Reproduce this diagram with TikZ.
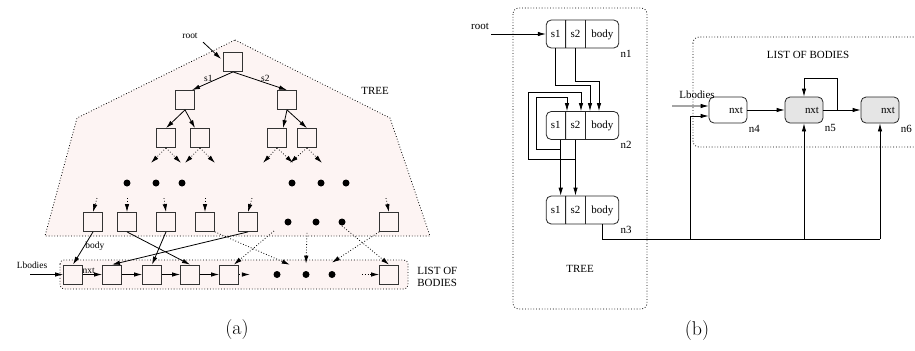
\documentclass[tikz,border=0pt]{standalone}
\usepackage{fontspec}
\newfontfamily\labelfont{Liberation Serif}
\usetikzlibrary{arrows.meta,shapes.multipart,calc}
\definecolor{treepink}{RGB}{253,244,243}
\definecolor{cellgray}{RGB}{229,229,229}
\tikzset{
  obj/.style={draw=black!80,fill=treepink,minimum size=19bp,inner sep=0pt},
  blob/.style={circle,fill=black,minimum size=7bp,inner sep=0pt},
  lbl/.style={font=\labelfont\fontsize{9.5}{10}\selectfont,inner sep=1pt},
  lblb/.style={font=\labelfont\fontsize{11}{12}\selectfont,inner sep=1pt},
  dotarr/.style={->,dotted},
  rec/.style={rectangle split,rectangle split parts=3,rectangle split horizontal,
    draw=black!85,rounded corners=5bp,inner sep=0pt,font=\labelfont\fontsize{11}{12}\selectfont},
  lnode/.style={draw=black!85,rounded corners=5bp,minimum height=26bp,text width=30bp,
    align=right,inner xsep=4bp,font=\labelfont\fontsize{11}{12}\selectfont},
}
\newcommand{\cell}[2]{\makebox[#1]{\rule[-11bp]{0pt}{28bp}#2}}

\begin{document}
\begin{tikzpicture}[x=1bp,y=-1bp,>={Latex[length=8bp,width=4.5bp]},line width=0.8bp]
\useasboundingbox (0,0) rectangle (915,350);

% (a) the tree over the list
\draw[dotted,fill=treepink] (235,40) -- (390,118) -- (430,236) -- (45,236) -- (77,118) -- cycle;
\draw[dotted,fill=treepink,rounded corners=4bp] (60,260) rectangle (408,289);

\node[obj] (r) at (233,62) {};
\node[obj] (a1) at (185,100) {};
\node[obj] (a2) at (287,100) {};
\node[obj] (b1) at (166,138) {};
\node[obj] (b2) at (200,138) {};
\node[obj] (b3) at (277,138) {};
\node[obj] (b4) at (307,138) {};
\foreach \n/\x in {td1/127,td2/156,td3/182,td4/292,td5/321,td6/346}
  \node[blob] (\n) at (\x,183) {};
\foreach \n/\x in {l1/93,l2/127,l3/166,l4/205,l5/248,l9/389}
  \node[obj] (\n) at (\x,222) {};
\foreach \n/\x in {ld1/288,ld2/316,ld3/342}
  \node[blob] (\n) at (\x,222) {};
\foreach \n/\x in {k1/73,k2/112,k3/152,k4/190,k5/229,k9/389}
  \node[obj] (\n) at (\x,274.5) {};
\foreach \n/\x in {kd1/277,kd2/306,kd3/332}
  \node[blob] (\n) at (\x,274.5) {};

\node[lbl] (rootA) at (190,36) {root};
\draw[->] (rootA.south east) ++(4,2) -- ([shift={(-2,-3)}]r.west);
\path[->]
(r.south) edge node[lbl,above,pos=0.6]{s1} ([xshift=7bp]a1.north)
(r.south) edge node[lbl,above,pos=0.6]{s2} (a2.north)
(a1.south) edge (b1.north)
(a1.south) edge ([xshift=-5bp]b2.north)
(a2.south) edge ([xshift=6bp]b3.north)
(a2.south) edge (b4.north);
\foreach \n/\dl/\dr in {b1/-15/15,b2/-15/15,b3/-14/16,b4/-17/15} {
  \draw[dotarr] (\n.south) -- ++(\dl,15);
  \draw[dotarr] (\n.south) -- ++(\dr,15);
}
\foreach \n/\dx in {l1/4,l2/0,l3/-2,l4/0,l5/4,l9/-3}
  \draw[dotarr] ([shift={(\dx,-14)}]\n.north) -- (\n.north);
\node[lblb] at (375,91) {TREE};

\draw[->] (l1.south) -- node[lbl,right,pos=0.45]{body} (k1.north);
\draw[->] (l2.south) -- (k4.north);
\draw[->] (l3.south) -- (k3.north);
\draw[->] (l5.south) -- (k2.north);
\draw[dotarr] (l4.south east) -- ([shift={(10,-7)}]kd1.north east);
\draw[dotarr] ([shift={(-14,9)}]ld1.center) -- ([xshift=-5bp]k5.north east);
\draw[dotarr] ([shift={(-9,7)}]ld2.south) -- ([yshift=7bp]kd2.north);
\draw[dotarr] (l9.south west) -- ([yshift=8bp]kd3.north);
\draw[dotarr] (ld3.south) -- (k9.north);

\coordinate (lbA) at (30,274.5);
\node[lbl] at (32,265) {Lbodies};
\draw[->] (lbA) -- (k1.west);
\draw[->] (k1) -- node[lbl,above,pos=0.3]{nxt} (k2);
\foreach \a/\b in {k2/k3,k3/k4,k4/k5}
  \draw[->] (\a) -- (\b);
\draw[dotarr] (k5.east) -- ++(11,0);
\draw[dotarr] ([xshift=-17bp]k9.west) -- (k9.west);
\node[lblb,anchor=west,align=left] at (416,277) {LIST OF\\BODIES};

\node[font=\fontsize{20}{24}\selectfont] at (237,330) {(a)};

% (b) the same structure with records
\draw[dotted,rounded corners=6bp] (513,8) rectangle (647,309);
\draw[dotted,rounded corners=6bp] (693,37) rectangle (925,147);
\node[lblb] at (580,269) {TREE};
\node[lblb] at (808,55) {LIST OF BODIES};

\node[rec] (n1) at (582.5,34) {\cell{19bp}{s1}\nodepart{two}\cell{19bp}{s2}\nodepart{three}\cell{33bp}{body}};
\node[rec] (n2) at (582.5,125.5) {\cell{19bp}{s1}\nodepart{two}\cell{19bp}{s2}\nodepart{three}\cell{33bp}{body}};
\node[rec] (n3) at (582.5,210) {\cell{19bp}{s1}\nodepart{two}\cell{19bp}{s2}\nodepart{three}\cell{33bp}{body}};
\node[lnode] (n4) at (728,110) {nxt};
\node[lnode,fill=cellgray] (n5) at (804,110) {nxt};
\node[lnode,fill=cellgray] (n6) at (880,110) {nxt};
\foreach \n in {n1,n2,n3,n4,n5,n6}
  \node[lblb,anchor=north west] at (\n.south east) {\n};

\coordinate (rootB) at (491,34);
\node[lblb] at (480,26) {root};
\draw[->] (rootB) -- (n1.west);

\draw[->] (n1.one south) -- ++(0,37) -| ([xshift=7.5bp]n2.north);
\draw[->] (n1.two south) -- ++(0,33) -| ([xshift=16.5bp]n2.north);
\draw[->] ([xshift=5bp]n2.one south) -- ([xshift=5bp]n3.one north);
\draw[->] ([xshift=5bp]n2.one south) -- ++(0,9) -| ++(-24,-52) -| ([xshift=-15.5bp]n2.north);
\draw[->] (n2.two south) -- (n3.two north);
\draw[->] (n2.two south) -- ++(0,19) -| ++(-47.5,-67) -| ([xshift=-1.5bp]n2.north);

\coordinate (bus) at (0,239);
\coordinate (j4) at (690,239);
\draw (n3.three south) |- (bus -| n6.south);
\draw[->] (j4) |- ([yshift=-6bp]n4.west);
\draw[->] (bus -| n5.south) -- (n5.south);
\draw[->] (bus -| n6.south) -- (n6.south);

\coordinate (lbB) at (672,106);
\node[lblb] at (697,95) {Lbodies};
\draw[->] (lbB) -- ([yshift=4bp]n4.west);
\draw[->] (n4) -- (n5);
\draw[->] (n5) -- (n6);
\draw[->] ([xshift=14bp]n5.east) -- ++(0,-32) -| (n5.north);

\node[font=\fontsize{20}{24}\selectfont] at (697,331) {(b)};
\end{tikzpicture}
\end{document}
